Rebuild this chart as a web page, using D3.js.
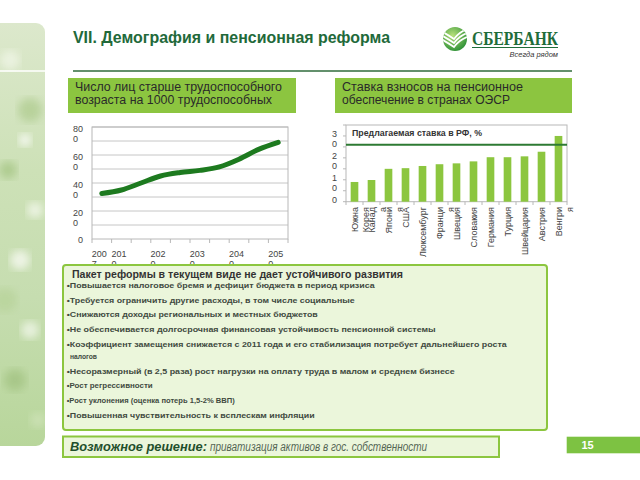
<!DOCTYPE html>
<html><head><meta charset="utf-8">
<script src="https://cdn.jsdelivr.net/npm/d3@7"></script>
<style>body{margin:0;background:#fff}svg{display:block;font-family:"Liberation Sans",Arial,sans-serif}</style>
</head><body><svg id="c" width="640" height="480"></svg>
<script>
// ---------- DATA ----------
const years = ["2007","2010","2015","2020","2025","2030","2035","2040","2045","2050"];
const yearTickLabels = ["2007","2010","","2020","","2030","","2040","","2050"];
const elderlyPer1000 = [325,350,400,450,475,490,515,570,640,690];
const elderlyTicks = [0,200,400,600,800];

const countries = ["Южная Корея","Канада","Япония","США","Люксембург","Франция","Швеция","Словакия","Германия","Турция","Швейцария","Австрия","Венгрия"];
const countryLabelLines = [["Южна","Корея"],["Канад","а"],["Япони","я"],["США"],["Люксембург"],["Франци","я"],["Швеция"],["Словакия"],["Германия"],["Турция"],["Швейцария"],["Австрия"],["Венгри","я"]];
const contributionRates = [9,9.9,15,15.3,16.3,17.1,17.5,18.4,20.3,20.3,20.7,22.8,30];
const proposedRate = 26;
const rateTicks = [0,10,20,30];

const pageTitle = "VII. Демография и пенсионная реформа";
const chart1Title = ["Число лиц старше трудоспособного","возраста на 1000 трудоспособных"];
const chart2Title = ["Ставка взносов на пенсионное","обеспечение в странах ОЭСР"];
const proposedLabel = "Предлагаемая ставка в РФ, %";
const boxHeading = "Пакет реформы в текущем виде не дает устойчивого развития";
const bullets = [
  ["•Повышается налоговое бремя и дефицит бюджета в период кризиса"],
  ["•Требуется ограничить другие расходы, в том числе социальные"],
  ["•Снижаются доходы региональных и местных бюджетов"],
  ["•Не обеспечивается долгосрочная финансовая устойчивость пенсионной системы"],
  ["•Коэффициент замещения снижается с 2011 года и его стабилизация потребует дальнейшего роста","налогов"],
  ["•Несоразмерный (в 2,5 раза) рост нагрузки на оплату труда в малом и среднем бизнесе"],
  ["•Рост регрессивности"],
  ["•Рост уклонения (оценка потерь 1,5-2% ВВП)"],
  ["•Повышенная чувствительность к всплескам инфляции"]
];
const bulletWidths = [[308],[288],[251],[369],[440,27],[388],[86],[168],[248]];
const solutionBold = "Возможное решение:";
const solutionText = "приватизация активов в гос. собственности";
const pageNumber = "15";

// ---------- DRAW ----------
const svg = d3.select("#c");
const defs = svg.append("defs");
svg.append("rect").attr("width",640).attr("height",480).attr("fill","#fff");

function txt(p, x, y, s, o={}) {
  const t = p.append("text").attr("x",x).attr("y",y).text(s)
    .attr("font-size",o.size||10).attr("fill",o.fill||"#333")
    .attr("font-weight",o.weight||"normal").attr("font-style",o.style||"normal")
    .attr("text-anchor",o.anchor||"start");
  if (o.family) t.attr("font-family",o.family);
  if (o.len) t.attr("textLength",o.len).attr("lengthAdjust","spacingAndGlyphs");
  return t;
}

// Left photo strip
const pg = defs.append("linearGradient").attr("id","photo").attr("x1",0).attr("y1",0).attr("x2",0).attr("y2",1);
pg.append("stop").attr("offset","0%").attr("stop-color","#dce8cc");
pg.append("stop").attr("offset","35%").attr("stop-color","#cde1b7");
pg.append("stop").attr("offset","65%").attr("stop-color","#c6ddb0");
pg.append("stop").attr("offset","100%").attr("stop-color","#b8d69b");
defs.append("clipPath").attr("id","photoClip").append("rect").attr("x",-10).attr("y",23).attr("width",55).attr("height",423).attr("rx",9);
defs.append("filter").attr("id","blur").append("feGaussianBlur").attr("stdDeviation",4);
const ph = svg.append("g").attr("clip-path","url(#photoClip)");
ph.append("rect").attr("x",-10).attr("y",23).attr("width",55).attr("height",423).attr("fill","url(#photo)");
const spots = [[10,60,10,"#eef4e4"],[30,110,12,"#b4cf95"],[8,170,9,"#a9c889"],[35,210,8,"#f2f7ea"],[20,260,10,"#f4f8ee"],[5,300,12,"#b9d49c"],[30,330,9,"#eef5e6"],[15,380,11,"#a5c585"],[38,420,8,"#cde2b6"],[25,140,6,"#ffffff"]];
ph.selectAll("circle").data(spots).join("circle").attr("cx",d=>d[0]).attr("cy",d=>d[1]).attr("r",d=>d[2]).attr("fill",d=>d[3]).attr("filter","url(#blur)").attr("opacity",0.85);
svg.append("line").attr("x1",0).attr("x2",45).attr("y1",71).attr("y2",71).attr("stroke","#ffffff").attr("stroke-width",1.5);

// Title and rule
txt(svg, 73, 43, pageTitle, {size:17, weight:"bold", fill:"#22693a", len:317});
svg.append("line").attr("x1",73).attr("x2",572).attr("y1",71).attr("y2",71).attr("stroke","#2f6b3b").attr("stroke-width",1.5);

// Logo
const lg = defs.append("radialGradient").attr("id","logoG").attr("cx","40%").attr("cy","35%").attr("r","70%");
lg.append("stop").attr("offset","0%").attr("stop-color","#b8e07a");
lg.append("stop").attr("offset","100%").attr("stop-color","#2a8f35");
defs.append("clipPath").attr("id","logoClip").append("circle").attr("cx",455).attr("cy",39).attr("r",12);
svg.append("circle").attr("cx",455).attr("cy",39).attr("r",12).attr("fill","url(#logoG)");
const lgc = svg.append("g").attr("clip-path","url(#logoClip)");
[0,4,8].forEach(o=>{
  lgc.append("path").attr("d",`M441,${31+o} Q448,${35+o} 454,${41+o-2} Q460,${33+o-2} 470,${28+o}`)
    .attr("fill","none").attr("stroke","#fff").attr("stroke-width",1.8);
});
txt(svg, 472, 45, "СБЕРБАНК", {size:19, weight:"bold", fill:"#1f6d3a", family:"'Liberation Serif',serif", len:86});
svg.append("line").attr("x1",472).attr("x2",558).attr("y1",47.5).attr("y2",47.5).attr("stroke","#1f6d3a").attr("stroke-width",1);
txt(svg, 558, 56.5, "Всегда рядом", {size:7.5, style:"italic", fill:"#333", anchor:"end"});

// Chart title boxes
const green = "#8cc540";
svg.append("rect").attr("x",68).attr("y",78).attr("width",228).attr("height",35).attr("fill",green);
txt(svg, 75, 91, chart1Title[0], {size:12, fill:"#2a2a2a", len:207});
txt(svg, 75, 103.5, chart1Title[1], {size:12, fill:"#2a2a2a", len:197});
svg.append("rect").attr("x",335).attr("y",78).attr("width",237).attr("height",35).attr("fill",green);
txt(svg, 342, 90.5, chart2Title[0], {size:12, fill:"#2a2a2a", len:181});
txt(svg, 342, 103.5, chart2Title[1], {size:12, fill:"#2a2a2a", len:168});

// ---------- Line chart ----------
const g1 = svg.append("g");
const x1 = d3.scaleBand().domain(years).range([92,288]).padding(0);
const y1 = d3.scaleLinear().domain([0,800]).range([239,127]);
g1.selectAll("line.grid").data(y1.ticks(8).filter(v=>v>0)).join("line")
  .attr("x1",92).attr("x2",288).attr("y1",d=>y1(d)).attr("y2",d=>y1(d))
  .attr("stroke","#c6c6c6").attr("stroke-width",1);
g1.append("rect").attr("x",92).attr("y",127).attr("width",196).attr("height",112)
  .attr("fill","none").attr("stroke","#b8b8b8").attr("stroke-width",1);
g1.selectAll("line.xt").data(years.map(d=>x1(d)).concat([288])).join("line")
  .attr("x1",d=>d).attr("x2",d=>d).attr("y1",239).attr("y2",243).attr("stroke","#b8b8b8");
const wrap = (s,n) => { const out=[]; for(let i=0;i<s.length;i+=n) out.push(s.slice(i,i+n)); return out; };
elderlyTicks.forEach(v=>{
  const lines = wrap(String(v),2);
  const yy = y1(v);
  if (lines.length===1) txt(g1, 83, yy+4, lines[0], {size:9, fill:"#444", anchor:"end"});
  else lines.forEach((l,i)=>txt(g1, 73, yy+4.5+i*10, l, {size:9, fill:"#444"}));
});
years.forEach((yr,i)=>{
  const lab = yearTickLabels[i]; if(!lab) return;
  const cx = x1(yr)+x1.bandwidth()/2;
  wrap(lab,3).forEach((l,k)=>txt(g1, cx-10, 257+k*9.5, l, {size:9, fill:"#444"}));
});
const line = d3.line().x((d,i)=>x1(years[i])+x1.bandwidth()/2).y(d=>y1(d)).curve(d3.curveMonotoneX);
g1.append("path").datum(elderlyPer1000).attr("d",line).attr("fill","none")
  .attr("stroke","#1d7a1f").attr("stroke-width",5).attr("stroke-linecap","round");

// ---------- Bar chart ----------
const g2 = svg.append("g");
const x2 = d3.scaleBand().domain(countries).range([346,567]).paddingInner(0.55).paddingOuter(0.275);
const y2 = d3.scaleLinear().domain([0,35]).range([201.7,125]);
g2.append("rect").attr("x",346).attr("y",125).attr("width",221).attr("height",76.7)
  .attr("fill","none").attr("stroke","#b8b8b8");
g2.selectAll("line.yt").data(d3.range(0,36,5)).join("line")
  .attr("x1",343).attr("x2",346).attr("y1",d=>y2(d)).attr("y2",d=>y2(d)).attr("stroke","#b8b8b8");
const step2 = x2.step();
g2.selectAll("line.xt").data(countries.map((c,i)=>346+i*step2).concat([567])).join("line")
  .attr("x1",d=>d).attr("x2",d=>d).attr("y1",201.7).attr("y2",205).attr("stroke","#b8b8b8");
rateTicks.forEach(v=>{
  const lines = wrap(String(v),1);
  lines.forEach((l,i)=>txt(g2, 332, y2(v)+1.5+i*10, l, {size:9, fill:"#444"}));
});
g2.selectAll("rect.bar").data(contributionRates).join("rect")
  .attr("x",(d,i)=>x2(countries[i])).attr("width",x2.bandwidth())
  .attr("y",d=>y2(d)).attr("height",d=>y2(0)-y2(d)).attr("fill","#8cc63f");
g2.append("line").attr("x1",346).attr("x2",567).attr("y1",y2(proposedRate)).attr("y2",y2(proposedRate))
  .attr("stroke","#2d7a33").attr("stroke-width",2);
txt(g2, 352, 136, proposedLabel, {size:8.5, weight:"bold", fill:"#333", len:130});
countries.forEach((c,i)=>{
  const cx = x2(c)+x2.bandwidth()/2;
  const lines = countryLabelLines[i];
  lines.forEach((l,k)=>{
    const xx = cx + 3 + k*11;
    g2.append("text").attr("transform",`translate(${xx},207) rotate(-90)`).attr("text-anchor","end")
      .attr("font-size",9).attr("fill","#444").text(l);
  });
});

// ---------- Reform box ----------
const lightFill = "#ebf6db";
svg.append("rect").attr("x",63).attr("y",265).attr("width",484).attr("height",165).attr("rx",3)
  .attr("fill",lightFill).attr("stroke","#8cc63f").attr("stroke-width",2);
txt(svg, 72, 277.5, boxHeading, {size:11, weight:"bold", fill:"#333", len:331});
const bulletY = [288,302.5,317,332,347,373.7,388,403,418];
bullets.forEach((b,i)=>{
  b.forEach((l,k)=>{
    const xx = k===0 ? 66.7 : 70;
    txt(svg, xx, bulletY[i] + k*11.7, l, {size:8, weight:"bold", fill:"#3f4a3f", len:bulletWidths[i][k]});
  });
});

// ---------- Solution box ----------
svg.append("rect").attr("x",63).attr("y",436.5).attr("width",436).attr("height",20.5)
  .attr("fill",lightFill).attr("stroke","#8cc63f").attr("stroke-width",2);
txt(svg, 70, 450.5, solutionBold, {size:13.5, weight:"bold", style:"italic", fill:"#1f4f2c", len:137});
txt(svg, 210, 450.5, solutionText, {size:12.5, style:"italic", fill:"#556655", len:217});

// Page number
svg.append("rect").attr("x",566.7).attr("y",436.7).attr("width",73.3).attr("height",16.6).attr("fill","#7dc242");
txt(svg, 581.5, 449, pageNumber, {size:11, weight:"bold", fill:"#fff"});
</script></body></html>
